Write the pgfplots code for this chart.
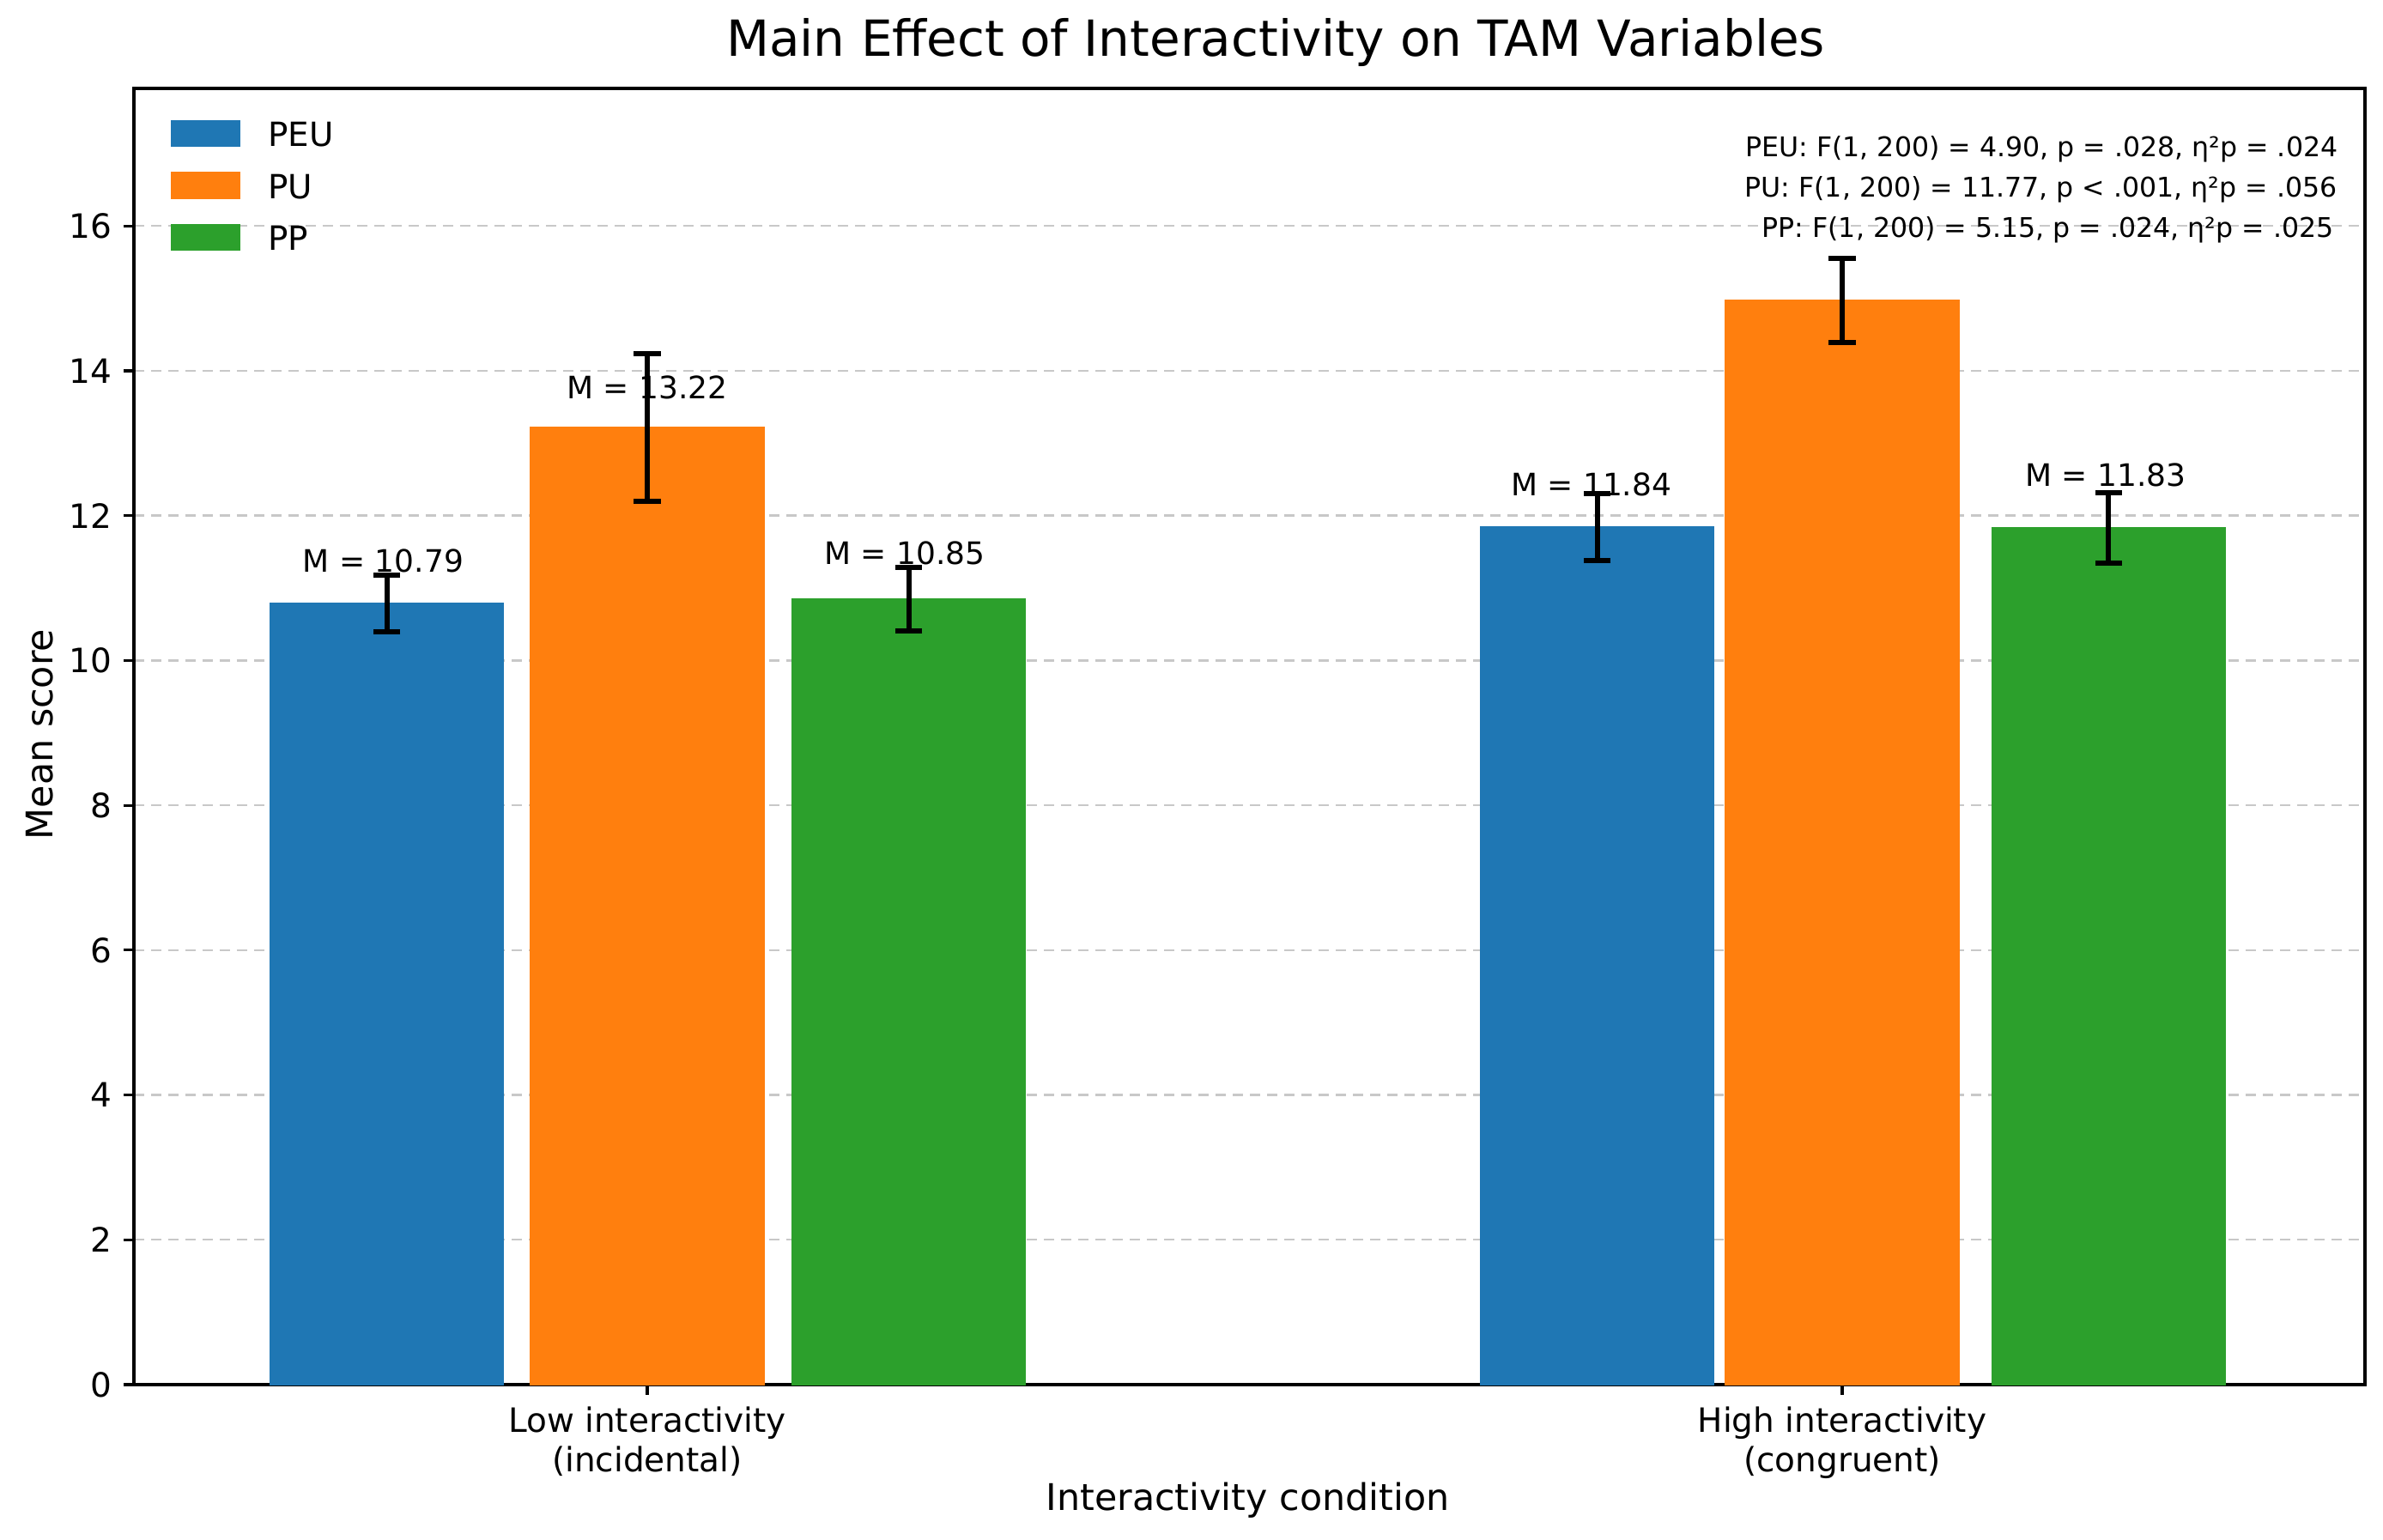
\documentclass[border=0pt]{standalone}
\usepackage{pgfplots}
\pgfplotsset{compat=1.18}
\usepackage{fontspec}
\setmainfont{DejaVu Sans}
\definecolor{cPEU}{HTML}{1F77B4}
\definecolor{cPU}{HTML}{FF7F0E}
\definecolor{cPP}{HTML}{2CA02C}
\definecolor{gridc}{HTML}{C8C8C8}
\pgfplotsset{
  myleg/.style={legend image code/.code={\draw[##1,/tikz/.cd,line width=0.6pt] (0pt,-3.5pt) rectangle (19.75pt,3.8pt);}},
}
\begin{document}
\begin{tikzpicture}
\path[use as bounding box, fill=white] (0pt,0pt) rectangle (694pt,448.5pt);
\begin{axis}[
  at={(39pt,45.25pt)}, anchor=south west,
  width=649.75pt, height=377.5pt, scale only axis,
  xmin=-0.4296, xmax=1.4375, ymin=0, ymax=17.9,
  ybar, bar width=0.195,
  axis line style={line width=1pt, black},
  xtick={0,1},
  xticklabels={{Low interactivity\\(incidental)},{High interactivity\\(congruent)}},
  ytick={0,2,4,6,8,10,12,14,16},
  tick align=outside, major tick length=3pt,
  tick style={line width=0.8pt, black},
  xtick pos=bottom, ytick pos=left,
  ymajorgrids=true,
  major grid style={gridc, line width=0.6pt, dash pattern=on 3pt off 2pt},
  /pgf/number format/assume math mode=true,
  yticklabel style={font=\fontsize{9.75}{11}\selectfont},
  xticklabel style={font=\fontsize{9.75}{11.5}\selectfont, align=center},
  legend style={at={(0,1)}, anchor=north west, xshift=10.5pt, yshift=-9pt,
    draw=none, fill=none, inner sep=0pt, row sep=7.2pt,
    font=\fontsize{9.7}{11}\selectfont,
    nodes={inner sep=0pt, text height=7.3pt, text depth=0pt},
    /tikz/every odd column/.append style={column sep=8pt}},
  legend cell align=left,
  clip=false,
]
\addplot[myleg, fill=cPEU, draw=cPEU, bar shift=-0.22,
  error bars/.cd, y dir=both, y explicit,
  error bar style={line width=1.5pt, black},
  error mark options={black, rotate=90, mark size=3.9pt, line width=1.5pt}]
  coordinates {(0.002,10.79) +- (0,0.39) (1.015,11.84) +- (0,0.46)};
\addplot[myleg, fill=cPU, draw=cPU, bar shift=0,
  error bars/.cd, y dir=both, y explicit,
  error bar style={line width=1.5pt, black},
  error mark options={black, rotate=90, mark size=3.9pt, line width=1.5pt}]
  coordinates {(0,13.22) +- (0,1.02) (1,14.97) +- (0,0.58)};
\addplot[myleg, fill=cPP, draw=cPP, bar shift=0.22,
  error bars/.cd, y dir=both, y explicit,
  error bar style={line width=1.5pt, black},
  error mark options={black, rotate=90, mark size=3.9pt, line width=1.5pt}]
  coordinates {(-0.001,10.85) +- (0,0.44) (1.003,11.83) +- (0,0.49)};
\legend{PEU,PU,PP}
\begin{scope}[every node/.style={font=\fontsize{9}{11}\selectfont, anchor=base, inner sep=0pt}]
\node at (axis cs:-0.221,11.22) {M = 10.79};
\node at (axis cs:0,13.61) {M = 13.22};
\node at (axis cs:0.2155,11.33) {M = 10.85};
\node at (axis cs:0.790,12.28) {M = 11.84};
\node at (axis cs:1.2205,12.40) {M = 11.83};
\end{scope}
\end{axis}
\begin{scope}[every node/.style={inner sep=0pt}]
\node[anchor=base, font=\fontsize{14.5}{17}\selectfont] at (371.5pt,432pt) {Main Effect of Interactivity on TAM Variables};
\node[anchor=base, font=\fontsize{10.7}{13}\selectfont] at (363.4pt,8.5pt) {Interactivity condition};
\node[anchor=base, rotate=90, font=\fontsize{10.7}{13}\selectfont] at (15.5pt,234.6pt) {Mean score};
\node[anchor=base, font=\fontsize{7.9}{10}\selectfont] at (594.6pt,402.75pt) {PEU: F(1, 200) = 4.90, p = .028, η²p = .024};
\node[anchor=base, font=\fontsize{7.9}{10}\selectfont] at (594.4pt,391pt) {PU: F(1, 200) = 11.77, p < .001, η²p = .056};
\node[anchor=base, font=\fontsize{7.9}{10}\selectfont] at (596.4pt,379.25pt) {PP: F(1, 200) = 5.15, p = .024, η²p = .025};
\end{scope}
\end{tikzpicture}
\end{document}
